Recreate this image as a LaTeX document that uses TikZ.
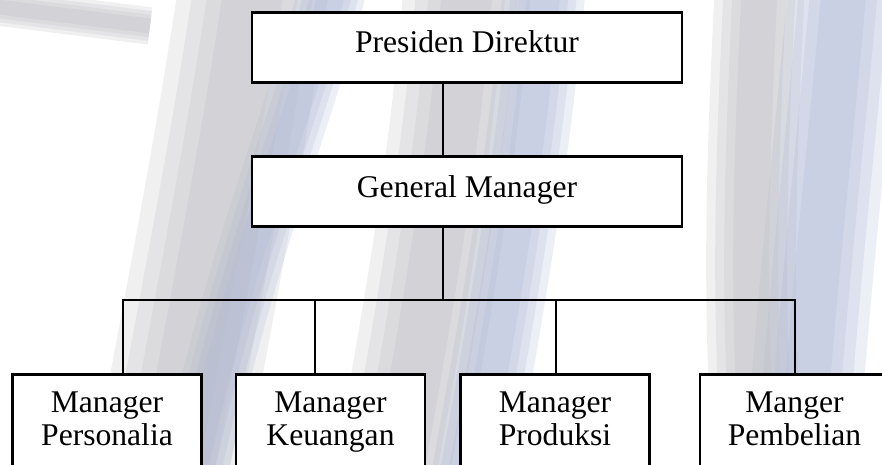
\documentclass[tikz,border=0pt]{standalone}
\usepackage{fontspec}
\setmainfont{Liberation Serif}
\usepackage{tikz}
\usetikzlibrary{positioning}
\definecolor{wmGray}{RGB}{186,186,192}
\definecolor{wmBlue}{RGB}{170,181,212}

\begin{document}
\begin{tikzpicture}[x=1pt, y=-1pt,
  boss/.style={draw, line width=2.6pt, fill=white, minimum width=430pt, minimum height=70pt,
    inner sep=0pt, text height=22pt, text depth=11pt, font=\fontsize{31.6}{33}\selectfont},
  mgr/.style={draw, line width=2.6pt, fill=white, anchor=north, minimum width=189pt,
    inner xsep=0pt, inner ysep=18pt, text depth=60pt, align=center,
    font=\fontsize{31.6}{33}\selectfont},
  link/.style={line width=2.3pt, line join=miter},
  wm/.style={line cap=butt, opacity=0.22},
]
  \useasboundingbox (0,0) rectangle (882,465);
  \clip (0,0) rectangle (882,465);
  % ---- faint logo in the background ----
  \foreach \k in {1.5,1.2,0.9,0.6}{
    \draw[wm, wmGray, line width=\k*100pt] (255,-20) .. controls (230,150) and (200,300) .. (165,490);
    \draw[wm, wmBlue, line width=\k*45pt] (335,-20) .. controls (300,120) and (240,250) .. (190,490);
    \draw[wm, wmGray, line width=\k*85pt] (468,-20) .. controls (455,150) and (430,300) .. (395,490);
    \draw[wm, wmBlue, line width=\k*55pt] (545,-20) .. controls (530,150) and (505,300) .. (470,490);
    \draw[wm, wmGray, line width=\k*60pt] (760,-20) .. controls (752,150) and (745,300) .. (760,490);
    \draw[wm, wmBlue, line width=\k*75pt] (845,-20) .. controls (830,150) and (812,300) .. (800,490);
    \draw[wm, wmGray, line width=\k*25pt] (-10,6) -- (150,26);
  }
  % ---- top levels ----
  \node[boss] (PD) at (467,47.5) {Presiden Direktur};
  \node[boss] (GM) at (467,191.5) {General Manager};
  % ---- managers ----
  \node[mgr] (MP)  at (107,373)   {Manager\\Personalia};
  \node[mgr] (MK)  at (330.5,373) {Manager\\Keuangan};
  \node[mgr] (MPr) at (555,373)   {Manager\\Produksi};
  \node[mgr] (MPb) at (794.5,373) {Manger\\Pembelian};
  % ---- connectors ----
  \coordinate (spine) at (443,0);
  \coordinate (hub) at (443,300);
  \foreach \n/\x in {MP/123, MK/315, MPr/556, MPb/795}
    \coordinate (t\n) at (\x,300);
  \draw[link] (PD.south -| spine) -- (GM.north -| spine);
  \draw[link] (GM.south -| spine) -- (hub);
  \draw[link] (MP.north -| tMP) -- (tMP) -- (tMPb) -- (MPb.north -| tMPb);
  \draw[link] (tMK) -- (MK.north -| tMK);
  \draw[link] (tMPr) -- (MPr.north -| tMPr);
\end{tikzpicture}
\end{document}
